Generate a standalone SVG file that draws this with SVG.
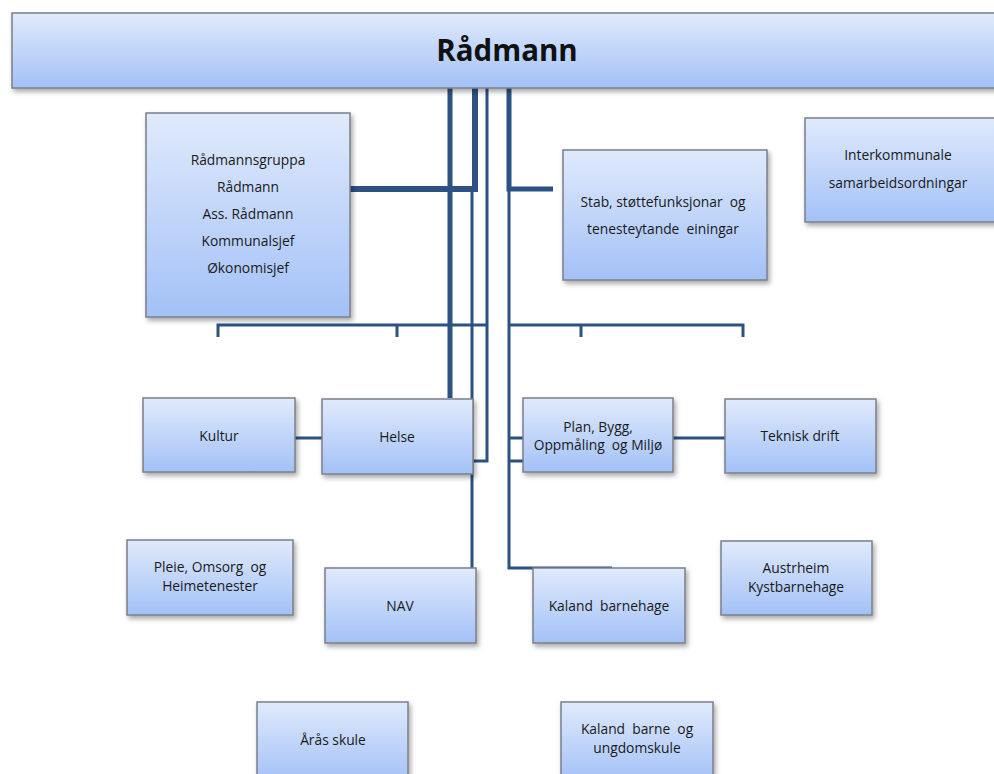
<svg xmlns="http://www.w3.org/2000/svg" width="994" height="774" viewBox="0 0 994 774">
<defs>
<linearGradient id="g" x1="0" y1="0" x2="0" y2="1">
<stop offset="0" stop-color="#e0eafc"/>
<stop offset="1" stop-color="#a3c1f7"/>
</linearGradient>
<filter id="sh" x="-10%" y="-10%" width="130%" height="140%">
<feDropShadow dx="2" dy="3" stdDeviation="2.5" flood-color="#000" flood-opacity="0.35"/>
</filter>
<style>
.box{fill:url(#g);stroke:#7a7f88;stroke-width:1.5;filter:url(#sh)}
.t{font-family:"Open Sans","Liberation Sans",sans-serif;font-size:13.8px;fill:#1a1a1a;text-anchor:middle;white-space:pre}
.title{font-family:"Open Sans","Liberation Sans",sans-serif;font-size:29.5px;font-weight:bold;fill:#111;text-anchor:middle}
.c{fill:none;stroke:#2b5283;stroke-linecap:butt;stroke-linejoin:miter}
</style>
</defs>
<rect width="994" height="774" fill="#fff"/>
<g id="connectors">
<path class="c" stroke-width="5" d="M450,88 V398"/>
<path class="c" stroke-width="6" d="M475,88 V189 H350"/>
<path class="c" stroke-width="3" d="M472,189 V568"/>
<path class="c" stroke-width="3" d="M487,88 V461 H472"/>
<path class="c" stroke-width="5" d="M509,88 V189 H553"/>
<path class="c" stroke-width="3" d="M509,189 V568 H612"/>
<path class="c" stroke-width="3" d="M509,438 H523 M509,461 H523"/>
<path class="c" stroke-width="3" d="M218,337 V325 H487 M397,325 V337"/>
<path class="c" stroke-width="3" d="M509,325 H743 V337 M581,325 V337"/>
<path class="c" stroke-width="3" d="M295,438 H322"/>
<path class="c" stroke-width="3" d="M673,438 H725"/>
</g>
<g id="radmann">
<rect class="box" x="12" y="13" width="990" height="75"/>
<text class="title" x="507" y="61">Rådmann</text>
</g>
<g id="radmannsgruppa">
<rect class="box" x="146" y="113" width="204" height="204"/>
<text class="t" x="248" y="165">Rådmannsgruppa</text>
<text class="t" x="248" y="192">Rådmann</text>
<text class="t" x="248" y="219">Ass. Rådmann</text>
<text class="t" x="248" y="246">Kommunalsjef</text>
<text class="t" x="248" y="273">Økonomisjef</text>
</g>
<g id="stab">
<rect class="box" x="563" y="150" width="204" height="130"/>
<text class="t" x="663" y="207">Stab, støttefunksjonar  og</text>
<text class="t" x="663" y="234">tenesteytande  einingar</text>
</g>
<g id="interkommunale">
<rect class="box" x="805" y="118" width="200" height="104"/>
<text class="t" x="898" y="160">Interkommunale</text>
<text class="t" x="898" y="188">samarbeidsordningar</text>
</g>
<g id="kultur">
<rect class="box" x="143" y="398" width="152" height="74"/>
<text class="t" x="219" y="441">Kultur</text>
</g>
<g id="helse">
<rect class="box" x="322" y="399" width="151" height="75"/>
<text class="t" x="397" y="442">Helse</text>
</g>
<g id="plan">
<rect class="box" x="523" y="398" width="150" height="74"/>
<text class="t" x="598" y="432">Plan, Bygg,</text>
<text class="t" x="598" y="450">Oppmåling  og Miljø</text>
</g>
<g id="teknisk">
<rect class="box" x="725" y="399" width="151" height="74"/>
<text class="t" x="800" y="441">Teknisk drift</text>
</g>
<g id="pleie">
<rect class="box" x="127" y="540" width="166" height="75"/>
<text class="t" x="210" y="572">Pleie, Omsorg  og</text>
<text class="t" x="210" y="591">Heimetenester</text>
</g>
<g id="nav">
<rect class="box" x="325" y="568" width="151" height="75"/>
<text class="t" x="400" y="611">NAV</text>
</g>
<g id="kaland-barnehage">
<rect class="box" x="533" y="568" width="152" height="75"/>
<text class="t" x="609" y="611">Kaland  barnehage</text>
</g>
<g id="austrheim">
<rect class="box" x="721" y="541" width="151" height="74"/>
<text class="t" x="796" y="573">Austrheim</text>
<text class="t" x="796" y="592">Kystbarnehage</text>
</g>
<g id="aras-skule">
<rect class="box" x="257" y="702" width="151" height="80"/>
<text class="t" x="333" y="745">Årås skule</text>
</g>
<g id="kaland-skule">
<rect class="box" x="561" y="702" width="152" height="80"/>
<text class="t" x="637" y="734">Kaland  barne  og</text>
<text class="t" x="637" y="753">ungdomskule</text>
</g>
</svg>
